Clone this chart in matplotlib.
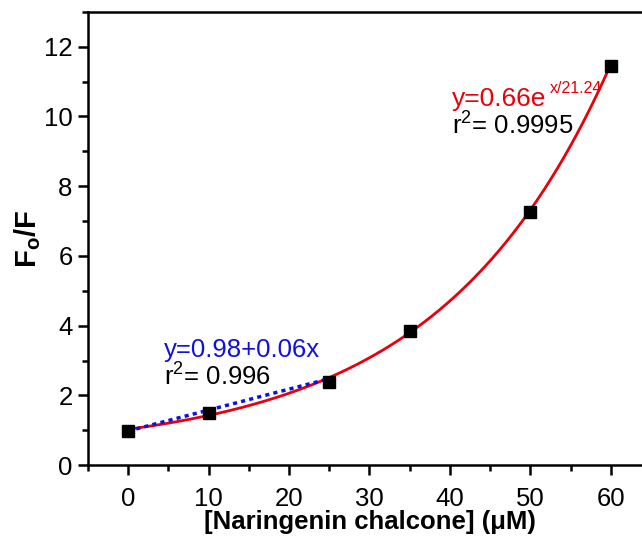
import numpy as np
import matplotlib
matplotlib.use("Agg")
import matplotlib.pyplot as plt
from matplotlib.ticker import MultipleLocator

plt.rcParams['font.family'] = ['Liberation Sans', 'DejaVu Sans']
plt.rcParams['mathtext.fontset'] = 'custom'
plt.rcParams['mathtext.rm'] = 'Liberation Sans'
plt.rcParams['mathtext.it'] = 'Liberation Sans:italic'
plt.rcParams['mathtext.bf'] = 'Liberation Sans:bold'

# measured data
conc = [0, 10, 25, 35, 50, 60]
ratio = [0.99, 1.49, 2.39, 3.84, 7.26, 11.44]

# exponential fit y = y0 + A*exp(x/t)
exp_y0 = 0.37
exp_a = 0.66
exp_t = 21.24

# linear fit over the low range
lin_b = 0.98
lin_m = 0.06
lin_range = [0, 25]

fig = plt.figure(figsize=(6.42, 5.39), dpi=100)
ax = fig.add_axes([0.137, 0.137, 0.877, 0.841])

xs = np.linspace(conc[0], conc[-1], 300)
ax.plot(xs, exp_y0 + exp_a * np.exp(xs / exp_t), color='#e8000b', lw=2, zorder=2)

xl = np.array(lin_range)
ax.plot(xl, lin_b + lin_m * xl, color='#1010e0', lw=2.5, ls=(0, (1.2, 1.2)), zorder=3)

ax.plot(conc, ratio, 's', color='black', ms=9, zorder=4)

ax.set_xlim(-5, 65)
ax.set_ylim(0, 13)
ax.xaxis.set_major_locator(MultipleLocator(10))
ax.xaxis.set_minor_locator(MultipleLocator(5))
ax.yaxis.set_major_locator(MultipleLocator(2))
ax.yaxis.set_minor_locator(MultipleLocator(1))

for s in ax.spines.values():
    s.set_linewidth(1.8)
ax.tick_params(which='both', direction='out', width=1.8, labelsize=18.5)
ax.tick_params(which='major', length=7)
ax.tick_params(which='minor', length=4.5)
ax.tick_params(axis='x', pad=9)
ax.tick_params(axis='y', pad=4)

ax.set_xlabel('[Naringenin chalcone] (\u03bcM)', fontsize=18.5, fontweight='bold', labelpad=-1)
ax.set_ylabel(r'$\mathbf{F_o/F}$', fontsize=21, labelpad=1)

ax.text(4.5, 3.11, 'y=0.98+0.06x', color='#1010e0', fontsize=18.5)
ax.text(4.5, 2.29, r'r$^2$= 0.996', color='black', fontsize=18.5)
ax.text(40.2, 10.29, 'y=0.66e', color='#e8000b', fontsize=19)
ax.text(52.4, 10.66, 'x/21.24', color='#e8000b', fontsize=11.5)
ax.text(40.2, 9.49, r'r$^2$= 0.9995', color='black', fontsize=18.5)

fig.savefig('out.png', dpi=100)
